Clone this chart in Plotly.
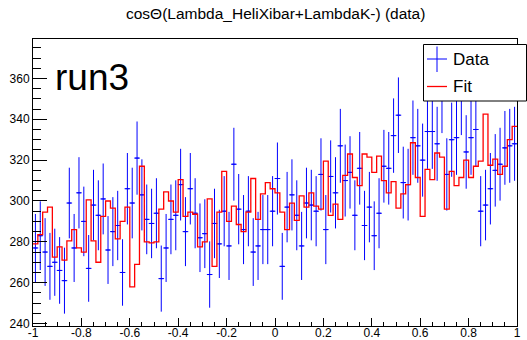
import numpy as np
import plotly.graph_objects as go

# ---- data ----
bin_low = -1.0
bin_high = 1.0
n_bins = 100

data_counts = [
    277, 283, 275, 268, 270, 266, 261, 299, 277, 304,
    290, 267, 298, 293, 301, 276, 285, 288, 265, 306,
    299, 321, 303, 291, 289, 294, 262, 277, 291, 293,
    308, 285, 306, 294, 282, 284, 264, 289, 279, 295,
    278, 318, 296, 286, 295, 275, 278, 286, 286, 295,
    311, 268, 297, 303, 293, 278, 299, 298, 295, 313,
    286, 312, 304, 327, 310, 314, 293, 316, 288, 297,
    283, 294, 317, 316, 332, 342, 309, 308, 331, 327,
    320, 334, 334, 328, 352, 313, 330, 331, 351, 324,
    331, 335, 295, 298, 306, 315, 318, 326, 327, 328,
]

fit_counts = [
    279, 283.5, 294.5, 297, 272.5, 277.5, 271, 280.5, 286, 277,
    275, 300.5, 280.5, 270, 292.5, 300, 296.5, 281.5, 290, 297,
    258, 269, 317, 280, 279.5, 280, 296, 304.5, 300, 294.5,
    310.5, 292.5, 294.5, 293.5, 277.5, 280, 301, 268, 294.5, 314.5,
    290, 297.5, 288.5, 285, 294.5, 311, 291, 303.5, 309, 306,
    304, 294.5, 286, 299, 290.5, 302.5, 297, 304, 297.5, 296,
    319.5, 293, 298.5, 291, 312.5, 323, 311.5, 307.5, 323, 321.5,
    314, 322, 310, 304, 309.5, 296.5, 303.5, 308, 328.5, 311.5,
    292.5, 315.5, 310.5, 323.5, 321.5, 296, 314.5, 307.5, 311.5, 320,
    311.5, 317, 319.5, 342.5, 317.5, 320.5, 313, 317, 330, 336.5,
]

x_tick_vals = [-1, -0.8, -0.6, -0.4, -0.2, 0, 0.2, 0.4, 0.6, 0.8, 1]
x_tick_text = ["-1", "-0.8", "-0.6", "-0.4", "-0.2", "0", "0.2", "0.4", "0.6", "0.8", "1"]
y_tick_vals = [240, 260, 280, 300, 320, 340, 360]
y_tick_text = ["240", "260", "280", "300", "320", "340", "360"]

title_text = "cosΘ(Lambda_HeliXibar+LambdaK-) (data)"
label_text = "run3"
legend_labels = ["Data", "Fit"]

# ---- derived ----
edges = np.linspace(bin_low, bin_high, n_bins + 1)
centers = 0.5 * (edges[:-1] + edges[1:])
bw = edges[1] - edges[0]
data_arr = np.array(data_counts, dtype=float)
errs = np.sqrt(data_arr)
fit_y = list(fit_counts) + [fit_counts[-1]]

W, H = 527, 340
ML, MR, MT, MB = 33, 10, 39, 14
pw = W - ML - MR
ph = H - MT - MB


def px(xp):
    return (xp - ML) / pw


def py(yp):
    return (H - MB - yp) / ph


BLUE = "#0000ff"
RED = "#ff0000"
FONT = "Liberation Sans, Arial, Helvetica, sans-serif"

fig = go.Figure()

fig.add_trace(go.Scatter(
    x=centers, y=data_arr, mode="markers",
    marker=dict(symbol="line-ew", size=4, color=BLUE,
                line=dict(color=BLUE, width=1)),
    error_y=dict(type="data", array=errs, visible=True, width=0,
                 thickness=1, color=BLUE),
    error_x=dict(type="constant", value=bw * 0.4, visible=True, width=0,
                 thickness=1, color=BLUE),
    showlegend=False, hoverinfo="skip",
))

fig.add_trace(go.Scatter(
    x=edges, y=fit_y, mode="lines", line_shape="hv",
    line=dict(color=RED, width=1.3),
    showlegend=False, hoverinfo="skip",
))

# legend box (drawn manually, ROOT style)
shapes = [
    dict(type="rect", xref="paper", yref="paper",
         x0=px(423.5), x1=px(526.5), y0=py(101), y1=py(44.5),
         line=dict(color="black", width=1), fillcolor="white", layer="above"),
    dict(type="line", xref="paper", yref="paper",
         x0=px(427), x1=px(447), y0=py(59), y1=py(59),
         line=dict(color=BLUE, width=1), layer="above"),
    dict(type="line", xref="paper", yref="paper",
         x0=px(437), x1=px(437), y0=py(46.5), y1=py(72),
         line=dict(color=BLUE, width=1), layer="above"),
    dict(type="line", xref="paper", yref="paper",
         x0=px(427), x1=px(447), y0=py(86.5), y1=py(86.5),
         line=dict(color=RED, width=1.3), layer="above"),
]

annotations = [
    dict(text=legend_labels[0], xref="paper", yref="paper",
         x=px(451), y=py(59), xanchor="left", yanchor="middle",
         showarrow=False, font=dict(family=FONT, size=17, color="black")),
    dict(text=legend_labels[1], xref="paper", yref="paper",
         x=px(451), y=py(86), xanchor="left", yanchor="middle",
         showarrow=False, font=dict(family=FONT, size=17, color="black")),
    dict(text=label_text, xref="paper", yref="paper",
         x=px(53), y=py(77), xanchor="left", yanchor="middle",
         showarrow=False, font=dict(family=FONT, size=37, color="black")),
    dict(text=title_text, xref="paper", yref="paper",
         x=px(275), y=py(13), xanchor="center", yanchor="middle",
         showarrow=False, font=dict(family=FONT, size=15.5, color="black")),
]

fig.update_layout(
    width=W, height=H,
    margin=dict(l=ML, r=MR, t=MT, b=MB, pad=0, autoexpand=False),
    paper_bgcolor="white", plot_bgcolor="white",
    font=dict(family=FONT, size=12, color="black"),
    shapes=shapes, annotations=annotations,
    showlegend=False,
)

fig.update_xaxes(
    range=[bin_low, bin_high], showgrid=False, zeroline=False, automargin=False,
    showline=True, linecolor="black", linewidth=1, mirror=True,
    ticks="inside", ticklen=8, tickcolor="black", tickwidth=1,
    tickvals=x_tick_vals, ticktext=x_tick_text, ticklabelstandoff=-4,
    tickfont=dict(family=FONT, size=12, color="black"),
    minor=dict(ticks="inside", ticklen=4, dtick=0.05, tick0=-1,
               tickcolor="black", tickwidth=1, showgrid=False),
)

fig.update_yaxes(
    range=[238.8, 379.3], showgrid=False, zeroline=False, automargin=False,
    showline=True, linecolor="black", linewidth=1, mirror=True,
    ticks="inside", ticklen=14, tickcolor="black", tickwidth=1,
    tickvals=y_tick_vals, ticktext=y_tick_text,
    tickfont=dict(family=FONT, size=12, color="black"),
    minor=dict(ticks="inside", ticklen=8, dtick=5, tick0=240,
               tickcolor="black", tickwidth=1, showgrid=False),
)

fig.write_html(
    "out.html",
    config={"displayModeBar": False, "staticPlot": True},
    post_script="document.body.style.margin='0';document.body.style.overflow='hidden';",
)
